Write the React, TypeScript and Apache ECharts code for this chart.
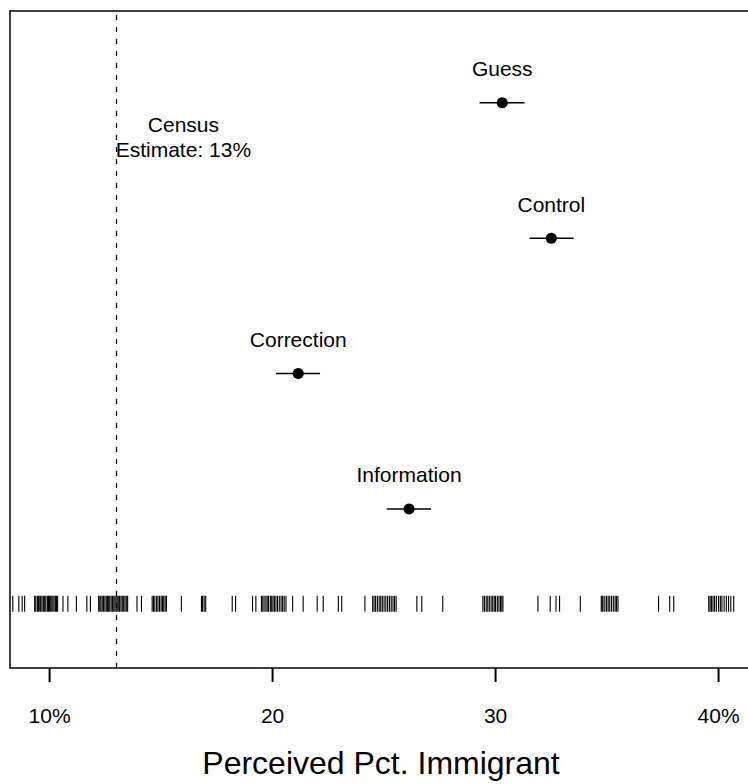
import React, { useEffect, useRef } from "react";
import * as echarts from "echarts";

const conditions = ["Guess", "Control", "Correction", "Information"];
const estimates = [30.3, 32.5, 21.15, 26.12];
const ciLow = [29.28, 31.52, 20.15, 25.12];
const ciHigh = [31.3, 33.5, 22.13, 27.11];
const rowPos = [4, 3, 2, 1];

const censusValue = 13;
const censusLabel = "Census\nEstimate: 13%";
const censusLabelPos = [16.0, 3.745];

const rugLevel = 0.3;
const rugValues = [
  8.35, 8.62, 8.77, 8.88,
  9.33, 9.38, 9.45, 9.5, 9.56, 9.6, 9.66, 9.72, 9.78, 9.83, 9.9, 9.95, 10.0, 10.05, 10.1, 10.15, 10.2, 10.26, 10.31, 10.36,
  10.6, 10.82, 11.2, 11.67, 11.83,
  12.2, 12.25, 12.3, 12.36, 12.42, 12.48, 12.54, 12.6, 12.65, 12.7, 12.76, 12.82, 12.88, 12.93, 12.98, 13.03, 13.08, 13.14, 13.2, 13.26, 13.32, 13.38, 13.44, 13.5,
  13.92, 14.12,
  14.6, 14.66, 14.72, 14.8, 14.86, 14.93, 15.0, 15.06, 15.12, 15.18, 15.24,
  15.91, 16.81, 16.86, 16.93, 17.0, 18.19, 18.34,
  19.1, 19.25,
  19.5, 19.56, 19.62, 19.7, 19.76, 19.82, 19.9, 19.96, 20.02, 20.08, 20.15, 20.22, 20.3, 20.38, 20.45, 20.52, 20.6,
  20.9, 21.37, 22.0, 22.27, 22.95, 23.1, 24.14,
  24.49, 24.55, 24.62, 24.7, 24.78, 24.85, 24.92, 25.0, 25.08, 25.16, 25.24, 25.32, 25.4, 25.47, 25.54,
  26.47, 26.69, 27.63,
  29.43, 29.5, 29.58, 29.65, 29.72, 29.8, 29.87, 29.94, 30.0, 30.08, 30.15, 30.22, 30.28, 30.33,
  31.9, 32.45, 32.71, 32.87, 33.8,
  34.74, 34.78, 34.82, 34.9, 34.98, 35.05, 35.12, 35.2, 35.28, 35.36, 35.42, 35.49,
  37.31, 37.81, 37.99,
  39.56, 39.62, 39.68, 39.75, 39.82, 39.9, 40.0, 40.08, 40.15, 40.25, 40.35, 40.45, 40.55, 40.68,
];

const tickValues = [10, 20, 30, 40];
const tickLabels = ["10%", "20", "30", "40%"];
const xTitle = "Perceived Pct. Immigrant";

const X_MIN = 8.224;
const X_MAX = 41.5;
const Y_MIN = -0.1746;
const Y_MAX = 4.678;

const FONT = "'Liberation Sans', Arial, Helvetica, sans-serif";

export default function App() {
  const ref = useRef<HTMLDivElement>(null);

  useEffect(() => {
    if (!ref.current) return;
    const chart = echarts.init(ref.current, undefined, { renderer: "svg" });

    const ciData = conditions.map((c, i) => [ciLow[i], ciHigh[i], rowPos[i], c]);
    const pointData = conditions.map((c, i) => [estimates[i], rowPos[i], c]);
    const rugData = rugValues.map((v) => [v, rugLevel]);
    const tickData = tickValues.map((v) => [v, Y_MIN]);

    const option: any = {
      animation: false,
      backgroundColor: "#ffffff",
      textStyle: { fontFamily: FONT, color: "#000000" },
      grid: {
        left: 10,
        top: 11,
        right: 0,
        bottom: 105,
        show: false,
        containLabel: false,
      },
      xAxis: [
        {
          type: "value",
          position: "bottom",
          min: X_MIN,
          max: X_MAX,
          splitLine: { show: false },
          axisLine: { show: true, onZero: false, lineStyle: { color: "#000000", width: 1.5 } },
          axisTick: { show: false },
          axisLabel: {
            show: true,
            customValues: tickValues,
            margin: 37,
            fontSize: 21,
            color: "#000000",
            fontFamily: FONT,
            formatter: (v: number) => {
              const idx = tickValues.indexOf(v);
              return idx >= 0 ? tickLabels[idx] : "";
            },
          },
          name: xTitle,
          nameLocation: "middle",
          nameGap: 79,
          nameTextStyle: { fontSize: 32, color: "#000000", fontFamily: FONT },
        },
        {
          type: "value",
          position: "top",
          min: X_MIN,
          max: X_MAX,
          splitLine: { show: false },
          axisLine: { show: true, onZero: false, lineStyle: { color: "#000000", width: 1.5 } },
          axisTick: { show: false },
          axisLabel: { show: false },
        },
      ],
      yAxis: {
        type: "value",
        position: "left",
        min: Y_MIN,
        max: Y_MAX,
        axisLine: { show: true, onZero: false, lineStyle: { color: "#000000", width: 1.5 } },
        axisTick: { show: false },
        axisLabel: { show: false },
        splitLine: { show: false },
      },
      series: [
        {
          type: "custom",
          name: "ci",
          silent: true,
          encode: { x: [0, 1], y: 2 },
          renderItem: (params: any, api: any) => {
            const a = api.coord([api.value(0), api.value(2)]);
            const b = api.coord([api.value(1), api.value(2)]);
            return {
              type: "line",
              shape: { x1: a[0], y1: a[1], x2: b[0], y2: b[1] },
              style: { stroke: "#000000", lineWidth: 1.5 },
            };
          },
          data: ciData,
          z: 2,
        },
        {
          type: "custom",
          name: "ticks",
          silent: true,
          clip: false,
          encode: { x: 0, y: 1 },
          renderItem: (params: any, api: any) => {
            const c = api.coord([api.value(0), api.value(1)]);
            return {
              type: "line",
              shape: { x1: c[0], y1: c[1], x2: c[0], y2: c[1] + 14 },
              style: { stroke: "#000000", lineWidth: 2 },
            };
          },
          data: tickData,
          z: 5,
        },
        {
          type: "scatter",
          name: "estimates",
          symbol: "circle",
          symbolSize: 11,
          itemStyle: { color: "#000000", opacity: 1 },
          silent: true,
          label: {
            show: true,
            position: "inside",
            offset: [0, -34],
            formatter: (p: any) => p.data[2],
            fontSize: 21,
            color: "#000000",
            textBorderWidth: 0,
            fontFamily: FONT,
          },
          data: pointData,
          z: 3,
        },
        {
          type: "custom",
          name: "rug",
          silent: true,
          encode: { x: 0, y: 1 },
          renderItem: (params: any, api: any) => {
            const c = api.coord([api.value(0), api.value(1)]);
            return {
              type: "line",
              shape: { x1: c[0], y1: c[1] - 8, x2: c[0], y2: c[1] + 8 },
              style: { stroke: "#000000", lineWidth: 1.1 },
            };
          },
          data: rugData,
          z: 2,
        },
        {
          type: "scatter",
          name: "census",
          symbol: "circle",
          symbolSize: 0,
          silent: true,
          itemStyle: { color: "#000000", opacity: 1 },
          label: {
            show: true,
            position: "inside",
            formatter: censusLabel,
            fontSize: 21,
            lineHeight: 25,
            align: "center",
            color: "#000000",
            textBorderWidth: 0,
            fontFamily: FONT,
          },
          data: [censusLabelPos],
          markLine: {
            silent: true,
            symbol: ["none", "none"],
            label: { show: false },
            lineStyle: { color: "#000000", type: [5, 7], width: 1.2 },
            data: [{ xAxis: censusValue }],
          },
          z: 1,
        },
      ],
    };

    chart.setOption(option);
    return () => chart.dispose();
  }, []);

  return (
    <div
      style={{
        position: "fixed",
        left: 0,
        top: 0,
        width: 748,
        height: 784,
        overflow: "hidden",
        background: "#fff",
      }}
    >
      <div ref={ref} style={{ width: 752, height: 784 }} />
    </div>
  );
}
